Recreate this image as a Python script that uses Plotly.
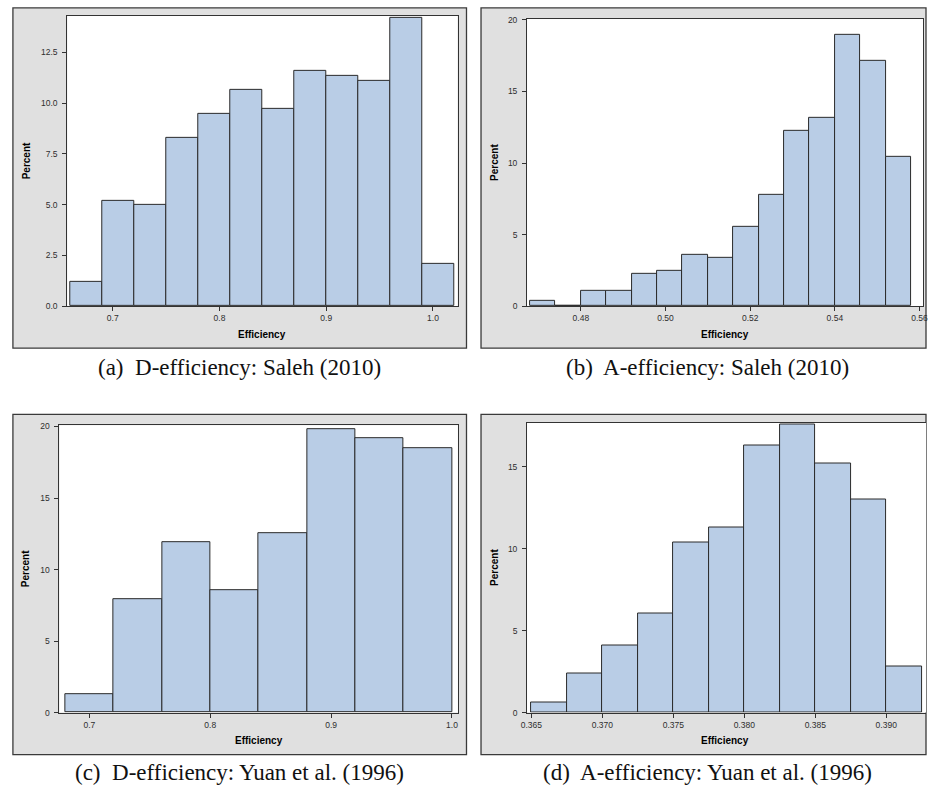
import plotly.graph_objects as go

# ---------------- data ----------------
# (a) D-efficiency: Saleh (2010)
a_bin_left = [0.66, 0.69, 0.72, 0.75, 0.78, 0.81, 0.84, 0.87, 0.90, 0.93, 0.96, 0.99]
a_bin_width = 0.03
a_percent = [1.19, 5.21, 4.97, 8.30, 9.46, 10.65, 9.71, 11.61, 11.36, 11.12, 14.19, 2.11]
a_ticks = [0.7, 0.8, 0.9, 1.0]
a_yticks = [0.0, 2.5, 5.0, 7.5, 10.0, 12.5]

# (b) A-efficiency: Saleh (2010)
b_bin_left = [0.468, 0.474, 0.480, 0.486, 0.492, 0.498, 0.504, 0.510, 0.516,
              0.522, 0.528, 0.534, 0.540, 0.546, 0.552]
b_bin_width = 0.006
b_percent = [0.37, 0.0, 1.06, 1.06, 2.28, 2.46, 3.59, 3.41, 5.55, 7.78,
             12.24, 13.14, 18.94, 17.12, 10.45]
b_ticks = [0.48, 0.50, 0.52, 0.54, 0.56]
b_yticks = [0, 5, 10, 15, 20]

# (c) D-efficiency: Yuan et al. (1996)
c_bin_left = [0.68, 0.72, 0.76, 0.80, 0.84, 0.88, 0.92, 0.96]
c_bin_width = 0.04
c_percent = [1.31, 7.90, 11.89, 8.57, 12.53, 19.82, 19.17, 18.48]
c_ticks = [0.7, 0.8, 0.9, 1.0]
c_yticks = [0, 5, 10, 15, 20]

# (d) A-efficiency: Yuan et al. (1996)
d_bin_left = [0.3650, 0.3675, 0.3700, 0.3725, 0.3750, 0.3775, 0.3800,
              0.3825, 0.3850, 0.3875, 0.3900]
d_bin_width = 0.0025
d_percent = [0.62, 2.37, 4.10, 6.05, 10.40, 11.28, 16.29, 17.57, 15.20, 13.03, 2.80]
d_ticks = [0.365, 0.370, 0.375, 0.380, 0.385, 0.390]
d_yticks = [0, 5, 10, 15]

captions = ["(a)  D-efficiency: Saleh (2010)",
            "(b)  A-efficiency: Saleh (2010)",
            "(c)  D-efficiency: Yuan et al. (1996)",
            "(d)  A-efficiency: Yuan et al. (1996)"]

# ---------------- layout geometry (pixels) ----------------
W, H = 931, 796
def px(x):
    return x / W
def py(y):
    return 1 - y / H

BAR_FILL = "#b9cde6"
BAR_LINE = "#2a2a2a"
AXIS_COL = "#333333"
TICK_FONT = dict(family="Liberation Sans, Arial, sans-serif", size=8.5, color="#2e2e2e")
TITLE_FONT = dict(family="Liberation Sans, Arial, sans-serif", size=10, color="#000000", weight="bold")

panels = [
    dict(plot=(62, 457, 12, 305.7), box=(7, 466, 4, 348),
         left=a_bin_left, w=a_bin_width, y=a_percent, xt=a_ticks, yt=a_yticks,
         xr=[0.6574, 1.0231], yr=[0, 14.30], xf=".1f", yf=".1f", mirror_y=True,
         cap_y=368),
    dict(plot=(527.3, 928.3, 15, 305.7), box=(480.7, 940, 4, 348),
         left=b_bin_left, w=b_bin_width, y=b_percent, xt=b_ticks, yt=b_yticks,
         xr=[0.4673, 0.5609], yr=[0, 20.07], xf=".2f", yf="d", mirror_y=True,
         cap_y=368),
    dict(plot=(54, 457.3, 426, 716.7), box=(7, 466, 415, 759.3),
         left=c_bin_left, w=c_bin_width, y=c_percent, xt=c_ticks, yt=c_yticks,
         xr=[0.6752, 1.0049], yr=[0, 20.09], xf=".1f", yf="d", mirror_y=True,
         cap_y=777),
    dict(plot=(527.3, 931, 423.3, 716.7), box=(480.7, 940, 415, 759.3),
         left=d_bin_left, w=d_bin_width, y=d_percent, xt=d_ticks, yt=d_yticks,
         xr=[0.3647, 0.3928], yr=[0, 17.70], xf=".3f", yf="d", mirror_y=False,
         cap_y=777),
]

fig = go.Figure()
shapes = []
annotations = []

for i, p in enumerate(panels):
    n = "" if i == 0 else str(i + 1)
    xa, ya = "x" + n, "y" + n
    pl, pr, pt, pb = p["plot"]
    bl, br, bt, bb = p["box"]

    centers = [l + p["w"] / 2 for l in p["left"]]
    fig.add_trace(go.Bar(
        x=centers, y=p["y"], width=[p["w"]] * len(centers),
        marker=dict(color=BAR_FILL, line=dict(color=BAR_LINE, width=1)),
        xaxis=xa, yaxis=ya, showlegend=False, hoverinfo="x+y"))

    shapes.append(dict(type="rect", xref="paper", yref="paper",
                       x0=px(bl), x1=min(px(br), 1.0), y0=py(bb), y1=py(bt),
                       fillcolor="#e0e0e0", line=dict(color="#3a3a3a", width=1.3),
                       layer="below"))
    shapes.append(dict(type="rect", xref="paper", yref="paper",
                       x0=px(pl), x1=px(pr), y0=py(pb), y1=py(pt),
                       fillcolor="#ffffff", line=dict(width=0), layer="below"))

    xkey = "xaxis" + n
    ykey = "yaxis" + n
    fig.layout[xkey] = dict(
        domain=[px(pl), min(px(pr), 1.0)], anchor=ya, range=p["xr"],
        tickmode="array", tickvals=p["xt"], tickformat=p["xf"],
        ticks="outside", ticklen=4, tickcolor=AXIS_COL, tickwidth=1,
        showline=True, linecolor=AXIS_COL, linewidth=1, mirror=True,
        showgrid=False, zeroline=False, tickfont=TICK_FONT, fixedrange=True,
        ticklabeloverflow="allow")
    fig.layout[ykey] = dict(
        domain=[py(pb), py(pt)], anchor=xa, range=p["yr"],
        tickmode="array", tickvals=p["yt"], tickformat=p["yf"],
        ticks="outside", ticklen=4, tickcolor=AXIS_COL, tickwidth=1,
        showline=True, linecolor=AXIS_COL, linewidth=1, mirror=p["mirror_y"],
        showgrid=False, zeroline=False, tickfont=TICK_FONT, fixedrange=True,
        ticklabelstandoff=3)

    annotations.append(dict(text="Efficiency", xref="paper", yref="paper",
                            x=px((pl + min(pr, 928.3)) / 2), y=py(pb + 28.6),
                            xanchor="center", yanchor="middle", showarrow=False,
                            font=TITLE_FONT))
    annotations.append(dict(text="Percent", xref="paper", yref="paper",
                            x=px(bl + 13.5), y=py((pt + pb) / 2), textangle=-90,
                            xanchor="center", yanchor="middle", showarrow=False,
                            font=TITLE_FONT))
    annotations.append(dict(text=captions[i], xref="paper", yref="paper",
                            x=px((bl + br) / 2), y=py(p["cap_y"]),
                            xanchor="center", yanchor="middle", showarrow=False,
                            font=dict(family="Liberation Serif, Times New Roman, serif",
                                      size=23, color="#111111")))

fig.update_layout(
    width=W, height=H, margin=dict(l=0, r=0, t=0, b=0),
    paper_bgcolor="#ffffff", plot_bgcolor="rgba(0,0,0,0)",
    shapes=shapes, annotations=annotations, bargap=0, barmode="overlay")

post = (
    "var s=document.createElement('style');"
    "s.textContent='html,body{margin:0;padding:0;overflow:hidden;width:931px;height:796px;}';"
    "document.head.appendChild(s);"
    "var d=document.getElementById('{plot_id}');"
    "d.style.position='absolute';d.style.left='0px';d.style.top='0px';"
)
fig.write_html("out.html", config={"displayModeBar": False}, post_script=post)
